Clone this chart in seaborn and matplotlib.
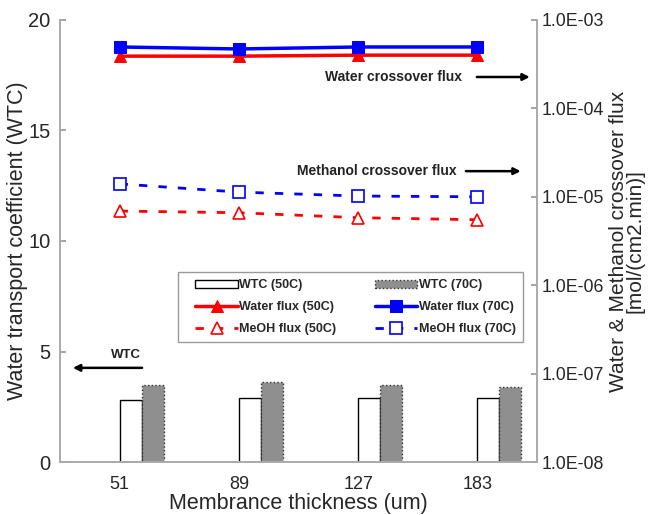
import numpy as np
import matplotlib
matplotlib.use("Agg")
import matplotlib.pyplot as plt
import seaborn as sns
from matplotlib.ticker import FixedLocator, FuncFormatter
from matplotlib.container import BarContainer
from matplotlib.lines import Line2D
from matplotlib.legend_handler import HandlerPatch, HandlerLine2D, update_from_first_child

# dati
thickness = ["51", "89", "127", "183"]
wtc_50 = [2.8, 2.9, 2.9, 2.9]
wtc_70 = [3.5, 3.6, 3.5, 3.4]
water_50 = [3.9e-4, 3.9e-4, 4.0e-4, 4.0e-4]
water_70 = [4.95e-4, 4.7e-4, 4.95e-4, 4.95e-4]
meoh_50 = [6.9e-6, 6.6e-6, 5.8e-6, 5.5e-6]
meoh_70 = [1.40e-5, 1.13e-5, 1.02e-5, 1.0e-5]

sns.set_theme(style="white")
plt.rcParams["font.family"] = ["Liberation Sans", "DejaVu Sans"]

fig = plt.figure(figsize=(6.5, 5.15), dpi=100)
ax = fig.add_axes([0.0923, 0.1029, 0.7338, 0.8583])
ax2 = ax.twinx()

pos = np.arange(len(thickness))
bw = 0.185

# barre WTC (asse sinistro)
ax.bar(pos + bw / 2, wtc_50, width=bw, color="white", edgecolor="black", lw=1.0,
       label="WTC (50C)", zorder=2)
ax.bar(pos + 1.5 * bw, wtc_70, width=bw, color="#8f8f8f", edgecolor="#333333", lw=1.0,
       linestyle=":", label="WTC (70C)", zorder=2)

# flussi (asse destro, log)
sns.lineplot(x=pos, y=water_50, ax=ax2, color="red", lw=2.5, marker="^", markersize=8,
             markeredgecolor="red", label="Water flux (50C)")
sns.lineplot(x=pos, y=water_70, ax=ax2, color="blue", lw=2.5, marker="s", markersize=8,
             markeredgecolor="blue", label="Water flux (70C)")
sns.lineplot(x=pos, y=meoh_50, ax=ax2, color="red", lw=2, linestyle=(0, (3, 4)), marker="^",
             markersize=9, markerfacecolor="white", markeredgecolor="red", markeredgewidth=1.2,
             label="MeOH flux (50C)")
sns.lineplot(x=pos, y=meoh_70, ax=ax2, color="blue", lw=2, linestyle=(0, (3, 4)), marker="s",
             markersize=9, markerfacecolor="white", markeredgecolor="blue", markeredgewidth=1.2,
             label="MeOH flux (70C)")

ax.set_xlim(-0.5, 3.5)
ax.set_ylim(0, 20)
ax.set_yticks([0, 5, 10, 15, 20])
ax2.set_yscale("log")
ax2.set_ylim(1e-8, 1e-3)
ax2.yaxis.set_major_locator(FixedLocator([1e-8, 1e-7, 1e-6, 1e-5, 1e-4, 1e-3]))
ax2.yaxis.set_minor_locator(FixedLocator([]))
ax2.yaxis.set_major_formatter(FuncFormatter(lambda v, p: "%.1E" % v))

ax.set_xticks(pos)
ax.set_xticklabels(thickness)
ax.set_xticks(pos[:-1] + 0.5, minor=True)
ax.tick_params(axis="x", which="major", length=0, labelsize=13, pad=10)
ax.tick_params(axis="x", which="minor", direction="in", length=4, color="#999999", width=1)
ax.tick_params(axis="y", direction="in", length=4, color="#999999", labelsize=14.5, left=True,
               pad=7)
ax2.tick_params(axis="y", direction="in", length=4, color="#999999", labelsize=12.8, right=True,
                pad=3)

for a in (ax, ax2):
    for s in a.spines.values():
        s.set_color("#aaaaaa")
        s.set_linewidth(1.2)
ax2.spines["top"].set_visible(False)
ax.spines["top"].set_visible(False)

ax.set_xlabel("Membrance thickness (um)", fontsize=15.5, labelpad=0)
ax.set_ylabel("Water transport coefficient (WTC)", fontsize=15.5)
ax.yaxis.set_label_coords(-0.068, 0.5)
ax2.set_ylabel("Water & Methanol crossover flux\n[mol/(cm2.min)]", fontsize=15,
               linespacing=0.85, labelpad=4)

# annotazioni con frecce
arrow = dict(arrowstyle="-|>", color="black", lw=1.8, mutation_scale=10, shrinkA=0, shrinkB=0)
ax.text(0.843, 0.871, "Water crossover flux", transform=ax.transAxes, ha="right", va="center",
        fontsize=10, fontweight="bold", color="#222222")
ax.annotate("", xy=(0.985, 0.871), xytext=(0.874, 0.871), xycoords="axes fraction",
            arrowprops=arrow)
ax.text(0.832, 0.658, "Methanol crossover flux", transform=ax.transAxes, ha="right",
        va="center", fontsize=10, fontweight="bold", color="#222222")
ax.annotate("", xy=(0.966, 0.658), xytext=(0.851, 0.658), xycoords="axes fraction",
            arrowprops=arrow)
ax.text(0.138, 0.242, "WTC", transform=ax.transAxes, ha="center", va="center",
        fontsize=9.5, fontweight="bold", color="#222222")
ax.annotate("", xy=(0.027, 0.213), xytext=(0.172, 0.213), xycoords="axes fraction",
            arrowprops=arrow)

# legenda combinata
h1, l1 = ax.get_legend_handles_labels()
h2, l2 = ax2.get_legend_handles_labels()
handles = [h1[0], h2[0], h2[2], h1[1], h2[1], h2[3]]
labels = [l1[0], l2[0], l2[2], l1[1], l2[1], l2[3]]
hmap = {BarContainer: HandlerPatch(xpad=0.8, update_func=update_from_first_child),
        Line2D: HandlerLine2D(xpad=0.8)}
ax2.legend(handles, labels, ncol=2, loc="upper left", bbox_to_anchor=(0.247, 0.43),
           borderaxespad=0, handler_map=hmap,
           prop={"weight": "bold", "size": 9}, frameon=True, framealpha=1,
           fancybox=False, edgecolor="#999999", handlelength=4.2, borderpad=0.6,
           labelspacing=0.78, handletextpad=0.1, columnspacing=2.3)

fig.savefig("out.png", dpi=100)
